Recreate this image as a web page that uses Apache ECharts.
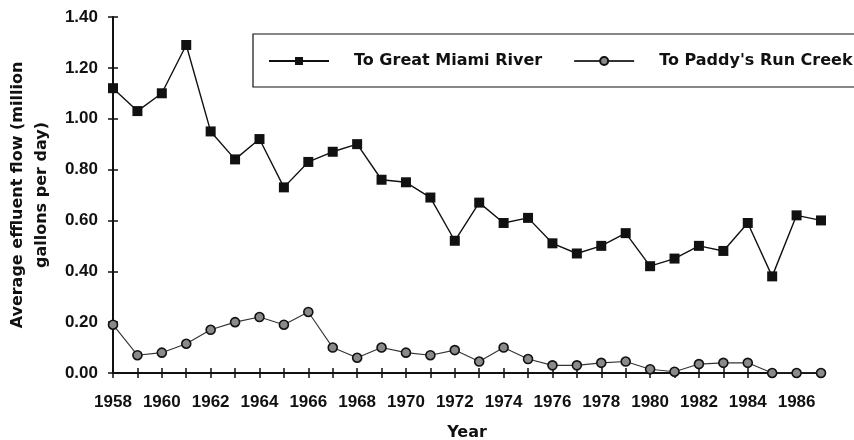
<!DOCTYPE html>
<html>
<head>
<meta charset="utf-8">
<script src="https://cdn.jsdelivr.net/npm/echarts@6/dist/echarts.min.js"></script>
<style>
  html, body { margin: 0; padding: 0; background: #fff; }
  #chart { width: 854px; height: 440px; }
</style>
</head>
<body>
<div id="chart"></div>
<script>
// Effluent flow by year, 1958-1987
const years = [
  '1958','1959','1960','1961','1962','1963','1964','1965','1966','1967',
  '1968','1969','1970','1971','1972','1973','1974','1975','1976','1977',
  '1978','1979','1980','1981','1982','1983','1984','1985','1986','1987'
];
const greatMiamiRiver = [
  1.12, 1.03, 1.10, 1.29, 0.95, 0.84, 0.92, 0.73, 0.83, 0.87,
  0.90, 0.76, 0.75, 0.69, 0.52, 0.67, 0.59, 0.61, 0.51, 0.47,
  0.50, 0.55, 0.42, 0.45, 0.50, 0.48, 0.59, 0.38, 0.62, 0.60
];
const paddysRunCreek = [
  0.19, 0.07, 0.08, 0.115, 0.17, 0.20, 0.22, 0.19, 0.24, 0.10,
  0.06, 0.10, 0.08, 0.07, 0.09, 0.045, 0.10, 0.055, 0.03, 0.03,
  0.04, 0.045, 0.015, 0.005, 0.035, 0.04, 0.04, 0.0, 0.0, 0.0
];
const seriesNames = ['To Great Miami River', "To Paddy's Run Creek"];
const yTicks = { min: 0, max: 1.4, interval: 0.2 };

const NUM_FONT = '"Liberation Sans", Arial, Helvetica, sans-serif';
const TEXT_FONT = '"DejaVu Sans", Verdana, sans-serif';
const INK = '#111';

const chart = echarts.init(document.getElementById('chart'), null, { renderer: 'canvas' });

chart.setOption({
  animation: false,
  backgroundColor: '#fff',
  textStyle: { fontFamily: NUM_FONT },
  grid: { left: 113, right: 33, top: 17, bottom: 67, containLabel: false, outerBoundsMode: 'none' },
  legend: {
    left: 253,
    top: 34,
    width: 700,
    padding: [19, 3, 18, 15],
    borderColor: INK,
    borderWidth: 1.2,
    itemWidth: 60,
    itemHeight: 10,
    itemGap: 31,
    textStyle: {
      fontFamily: TEXT_FONT, fontSize: 16, fontWeight: 'bold', color: INK,
      padding: [0, 0, 0, 20]
    },
    data: seriesNames
  },
  xAxis: [
    {
      type: 'category',
      data: years,
      boundaryGap: false,
      name: 'Year',
      nameLocation: 'middle',
      nameGap: 52,
      nameTextStyle: { fontFamily: TEXT_FONT, fontSize: 16, fontWeight: 'bold', color: INK },
      axisLine: { lineStyle: { color: INK, width: 2 } },
      axisTick: { show: true, interval: 0, length: 5, lineStyle: { color: INK, width: 1.5 } },
      axisLabel: {
        interval: 1,
        margin: 21,
        fontFamily: NUM_FONT, fontSize: 17, fontWeight: 'bold', color: INK
      },
      splitLine: { show: false }
    },
    {
      // inner half of the crossing year ticks
      type: 'category',
      data: years,
      boundaryGap: false,
      position: 'bottom',
      axisLine: { show: false },
      axisTick: { show: true, inside: true, interval: 0, length: 5, lineStyle: { color: INK, width: 1.5 } },
      axisLabel: { show: false },
      splitLine: { show: false }
    }
  ],
  yAxis: [
    {
      type: 'value',
      min: yTicks.min,
      max: yTicks.max,
      interval: yTicks.interval,
      name: 'Average effluent flow (million\ngallons per day)',
      nameLocation: 'middle',
      nameGap: 58,
      nameTextStyle: { fontFamily: TEXT_FONT, fontSize: 16, fontWeight: 'bold', color: INK, lineHeight: 24 },
      axisLine: { show: true, lineStyle: { color: INK, width: 2 } },
      axisTick: { show: true, length: 5, lineStyle: { color: INK, width: 1.5 } },
      axisLabel: {
        margin: 15,
        fontFamily: NUM_FONT, fontSize: 17, fontWeight: 'bold', color: INK,
        formatter: v => v.toFixed(2)
      },
      splitLine: { show: false }
    },
    {
      // inner half of the crossing value ticks
      type: 'value',
      position: 'left',
      min: yTicks.min,
      max: yTicks.max,
      interval: yTicks.interval,
      axisLine: { show: false },
      axisTick: { show: true, inside: true, length: 5, lineStyle: { color: INK, width: 1.5 } },
      axisLabel: { show: false },
      splitLine: { show: false }
    }
  ],
  series: [
    {
      name: seriesNames[0],
      type: 'line',
      data: greatMiamiRiver,
      symbol: 'rect',
      symbolSize: 10,
      showAllSymbol: true,
      lineStyle: { color: INK, width: 1.4 },
      itemStyle: { color: INK, borderColor: INK, borderWidth: 0 }
    },
    {
      name: seriesNames[1],
      type: 'line',
      data: paddysRunCreek,
      symbol: 'circle',
      symbolSize: 9,
      showAllSymbol: true,
      lineStyle: { color: '#333', width: 1.1 },
      itemStyle: { color: '#8a8a8a', borderColor: INK, borderWidth: 1.6 }
    }
  ]
});
</script>
</body>
</html>
